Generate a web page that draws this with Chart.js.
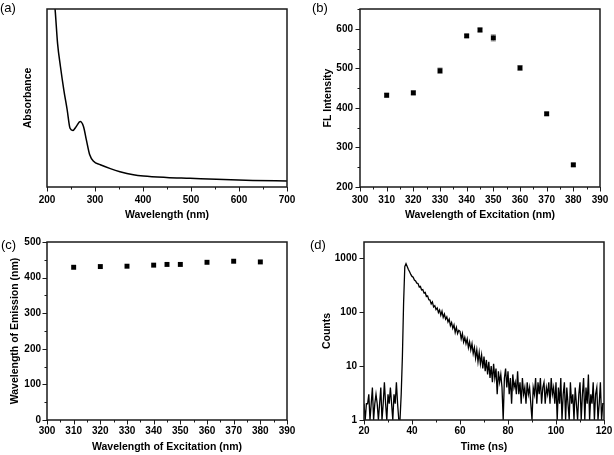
<!DOCTYPE html>
<html>
<head>
<meta charset="utf-8">
<script src="https://cdn.jsdelivr.net/npm/chart.js@4.4.0/dist/chart.umd.min.js"></script>
<style>
  body { margin: 0; background: #fff; }
  #wrap { position: relative; width: 614px; height: 455px; }
  canvas { position: absolute; }
  .tag { position: absolute; font: 13px "Liberation Sans", Arial, sans-serif; color: #000; }
</style>
</head>
<body>
<div id="wrap">
  <canvas id="chartA" width="307" height="227" style="left:0;top:0"></canvas>
  <canvas id="chartB" width="307" height="227" style="left:307px;top:0"></canvas>
  <canvas id="chartC" width="307" height="228" style="left:0;top:227px"></canvas>
  <canvas id="chartD" width="307" height="228" style="left:307px;top:227px"></canvas>
  <div class="tag" style="left:0;top:0">(a)</div>
  <div class="tag" style="left:312px;top:0">(b)</div>
  <div class="tag" style="left:1px;top:237px">(c)</div>
  <div class="tag" style="left:310px;top:237px">(d)</div>
</div>
<script>
// (a) absorption spectrum
const absWavelength = [215, 217, 222, 228, 235, 242, 248, 254, 261, 269, 276, 282, 289, 297, 311, 332, 352, 380, 401, 449, 498, 553, 629, 700];
const absorbance = [105, 99.4, 80.7, 67.7, 54.6, 43.4, 33, 31.8, 34, 36.8, 34, 26.5, 18.1, 14.4, 12.5, 10.3, 8.6, 6.9, 6.2, 5.4, 4.9, 4.3, 3.7, 3.4];

// (b) and (c) excitation series
const excitation = [310, 320, 330, 340, 345, 350, 360, 370, 380];
const flIntensity = [432, 438, 494, 582, 597, 577, 501, 385, 256];
const flError = [5, 5, 7, 4, 5, 8, 6, 4, 4];
const emission = [429, 431, 432, 435, 437, 437, 443, 446, 444];

// (d) decay curve
const decayTime = [
  20, 20.5, 21, 21.5, 22, 22.5, 23, 23.5, 24, 24.5,
  25, 25.5, 26, 26.5, 27, 27.5, 28, 28.5, 29, 29.5,
  30, 30.5, 31, 31.5, 32, 32.5, 33, 33.5, 34, 34.5,
  35, 35.5, 36, 36.5, 37, 37.5, 38, 38.5, 39, 39.5,
  40, 40.5, 41, 41.5, 42, 42.5, 43, 43.5, 44, 44.5,
  45, 45.5, 46, 46.5, 47, 47.5, 48, 48.5, 49, 49.5,
  50, 50.5, 51, 51.5, 52, 52.5, 53, 53.5, 54, 54.5,
  55, 55.5, 56, 56.5, 57, 57.5, 58, 58.5, 59, 59.5,
  60, 60.5, 61, 61.5, 62, 62.5, 63, 63.5, 64, 64.5,
  65, 65.5, 66, 66.5, 67, 67.5, 68, 68.5, 69, 69.5,
  70, 70.5, 71, 71.5, 72, 72.5, 73, 73.5, 74, 74.5,
  75, 75.5, 76, 76.5, 77, 77.5, 78, 78.5, 79, 79.5,
  80, 80.5, 81, 81.5, 82, 82.5, 83, 83.5, 84, 84.5,
  85, 85.5, 86, 86.5, 87, 87.5, 88, 88.5, 89, 89.5,
  90, 90.5, 91, 91.5, 92, 92.5, 93, 93.5, 94, 94.5,
  95, 95.5, 96, 96.5, 97, 97.5, 98, 98.5, 99, 99.5,
  100, 100.5, 101, 101.5, 102, 102.5, 103, 103.5, 104, 104.5,
  105, 105.5, 106, 106.5, 107, 107.5, 108, 108.5, 109, 109.5,
  110, 110.5, 111, 111.5, 112, 112.5, 113, 113.5, 114, 114.5,
  115, 115.5, 116, 116.5, 117, 117.5, 118, 118.5, 119, 119.5,
  120
];
const decayCounts = [
  2, 1, 2, 2, 3, 1, 2, 4, 1, 2,
  3, 2, 1, 2, 4, 1, 2, 5, 2, 1,
  3, 2, 4, 2, 1, 3, 2, 5, 2, 1,
  1, 3, 15, 150, 700, 790, 700, 620, 560, 500,
  460, 445, 395, 380, 345, 340, 295, 300, 258, 262,
  228, 232, 195, 200, 170, 168, 142, 155, 125, 132,
  112, 120, 98, 110, 88, 104, 80, 92, 74, 82,
  66, 74, 56, 64, 50, 58, 42, 52, 40, 46,
  44, 32, 40, 28, 34, 26, 32, 22, 28, 20,
  26, 17, 22, 14, 20, 12, 18, 11, 16, 9,
  15, 8, 13, 7, 12, 6, 10, 5, 11, 6,
  9, 3, 8, 5, 7, 4, 1, 6, 9, 4,
  8, 3, 6, 2, 7, 4, 5, 3, 8, 3,
  5, 2, 6, 3, 4, 2, 5, 3, 4, 2,
  1, 4, 3, 6, 2, 5, 3, 6, 2, 4,
  5, 2, 4, 3, 5, 2, 6, 3, 4, 2,
  5, 1, 4, 2, 6, 1, 3, 5, 1, 4,
  2, 1, 5, 2, 3, 1, 4, 2, 1, 3,
  5, 1, 3, 6, 1, 4, 2, 7, 1, 3,
  2, 5, 1, 3, 4, 1, 2, 5, 1, 2,
  2
];
const logTicks = [1, 10, 100, 1000];

Chart.defaults.font.family = '"Liberation Sans", Arial, sans-serif';
Chart.defaults.font.size = 10;
Chart.defaults.font.weight = 'bold';
Chart.defaults.color = '#000';

// box around the plot + outward ticks (short for unlabeled ones)
const frame = {
  id: 'frame',
  afterDraw(chart, args, opts) {
    const { ctx, chartArea: a } = chart;
    ctx.save();
    ctx.strokeStyle = '#1a1a1a';
    ctx.lineWidth = 1;
    ['x', 'y'].forEach(id => {
      if (id === 'y' && opts.skipY) return;
      const s = chart.scales[id];
      s.ticks.forEach(t => {
        const len = t.label === '' ? 2.5 : 4.5;
        const p = Math.round(s.getPixelForValue(t.value)) + 0.5;
        ctx.beginPath();
        if (id === 'x') { ctx.moveTo(p, a.bottom); ctx.lineTo(p, a.bottom + len); }
        else { ctx.moveTo(a.left, p); ctx.lineTo(a.left - len, p); }
        ctx.stroke();
      });
    });
    ctx.lineWidth = 1.5;
    ctx.strokeRect(a.left, a.top, a.width, a.height);
    ctx.restore();
  }
};

const errorBars = {
  id: 'errorBars',
  beforeDatasetsDraw(chart, args, opts) {
    if (!opts.values) return;
    const { ctx, scales: { x, y } } = chart;
    ctx.save();
    ctx.strokeStyle = '#999';
    ctx.lineWidth = 1;
    excitation.forEach((v, i) => {
      const px = x.getPixelForValue(v);
      const y1 = y.getPixelForValue(flIntensity[i] + opts.values[i]);
      const y2 = y.getPixelForValue(flIntensity[i] - opts.values[i]);
      ctx.beginPath();
      ctx.moveTo(px, y1); ctx.lineTo(px, y2);
      ctx.moveTo(px - 2.5, y1); ctx.lineTo(px + 2.5, y1);
      ctx.moveTo(px - 2.5, y2); ctx.lineTo(px + 2.5, y2);
      ctx.stroke();
    });
    ctx.restore();
  }
};

function axis(o) {
  return {
    type: o.type || 'linear',
    min: o.min,
    max: o.max,
    grid: { drawOnChartArea: false, drawTicks: true, tickLength: 4, color: 'rgba(0,0,0,0)' },
    border: { display: false },
    ticks: {
      display: o.labels !== false,
      stepSize: o.step,
      autoSkip: false,
      maxRotation: 0,
      padding: o.tickPad,
      callback: v => (o.major && v % o.major !== 0 ? '' : String(v))
    },
    afterBuildTicks: o.fixed ? s => { s.ticks = o.fixed.map(v => ({ value: v })); } : undefined,
    title: { display: true, text: o.title, padding: { top: o.titlePad, bottom: o.titlePad }, font: { size: 10.5, weight: 'bold' } },
    afterFit: s => { if (o.w) s.width = o.w; if (o.h) s.height = o.h; }
  };
}

function baseOptions(pad, x, y, plugins) {
  return {
    responsive: false,
    animation: false,
    layout: { padding: pad },
    scales: { x: x, y: y },
    plugins: Object.assign({ legend: { display: false }, tooltip: { enabled: false } }, plugins || {})
  };
}

// (a)
new Chart(document.getElementById('chartA'), {
  type: 'line',
  data: {
    datasets: [{
      data: absWavelength.map((v, i) => ({ x: v, y: absorbance[i] })),
      borderColor: '#000',
      borderWidth: 1.5,
      pointRadius: 0,
      cubicInterpolationMode: 'monotone',
      clip: 0
    }]
  },
  options: baseOptions({ left: 0, top: 9, right: 20, bottom: 0 },
    axis({ min: 200, max: 700, step: 50, major: 100, title: 'Wavelength (nm)', tickPad: 3, titlePad: 6, h: 40 }),
    axis({ min: 0, max: 100, step: 20, labels: false, title: 'Absorbance', titlePad: 22, w: 47 }),
    { frame: { skipY: true } }),
  plugins: [frame]
});

// (b)
new Chart(document.getElementById('chartB'), {
  type: 'scatter',
  data: {
    datasets: [{
      data: excitation.map((v, i) => ({ x: v, y: flIntensity[i] })),
      backgroundColor: '#000',
      borderColor: '#000',
      pointStyle: 'rect',
      pointRadius: 3.5,
      borderWidth: 0
    }]
  },
  options: baseOptions({ left: 0, top: 9, right: 14, bottom: 0 },
    axis({ min: 300, max: 390, step: 5, major: 10, title: 'Wavelength of Excitation (nm)', tickPad: 3, titlePad: 6, h: 40 }),
    axis({ min: 200, max: 650, step: 50, major: 100, title: 'FL Intensity', tickPad: 3, titlePad: 15, w: 53 }),
    { errorBars: { values: flError } }),
  plugins: [frame, errorBars]
});

// (c)
new Chart(document.getElementById('chartC'), {
  type: 'scatter',
  data: {
    datasets: [{
      data: excitation.map((v, i) => ({ x: v, y: emission[i] })),
      backgroundColor: '#000',
      borderColor: '#000',
      pointStyle: 'rect',
      pointRadius: 3.5,
      borderWidth: 0
    }]
  },
  options: baseOptions({ left: 0, top: 15, right: 20, bottom: 0 },
    axis({ min: 300, max: 390, step: 5, major: 10, title: 'Wavelength of Excitation (nm)', tickPad: 1, titlePad: 2, h: 35 }),
    axis({ min: 0, max: 500, step: 50, major: 100, title: 'Wavelength of Emission (nm)', tickPad: 2, titlePad: 9, w: 47 })),
  plugins: [frame]
});

// (d)
new Chart(document.getElementById('chartD'), {
  type: 'line',
  data: {
    datasets: [{
      data: decayTime.map((t, i) => ({ x: t, y: decayCounts[i] })),
      borderColor: '#000',
      borderWidth: 1.3,
      pointRadius: 0,
      tension: 0,
      clip: 0
    }]
  },
  options: baseOptions({ left: 0, top: 15, right: 10, bottom: 0 },
    axis({ min: 20, max: 120, step: 10, major: 20, title: 'Time (ns)', tickPad: 1, titlePad: 2, h: 35 }),
    axis({ type: 'logarithmic', min: 1, max: 2000, fixed: logTicks, title: 'Counts', tickPad: 3, titlePad: 14, w: 57 })),
  plugins: [frame]
});
</script>
</body>
</html>
